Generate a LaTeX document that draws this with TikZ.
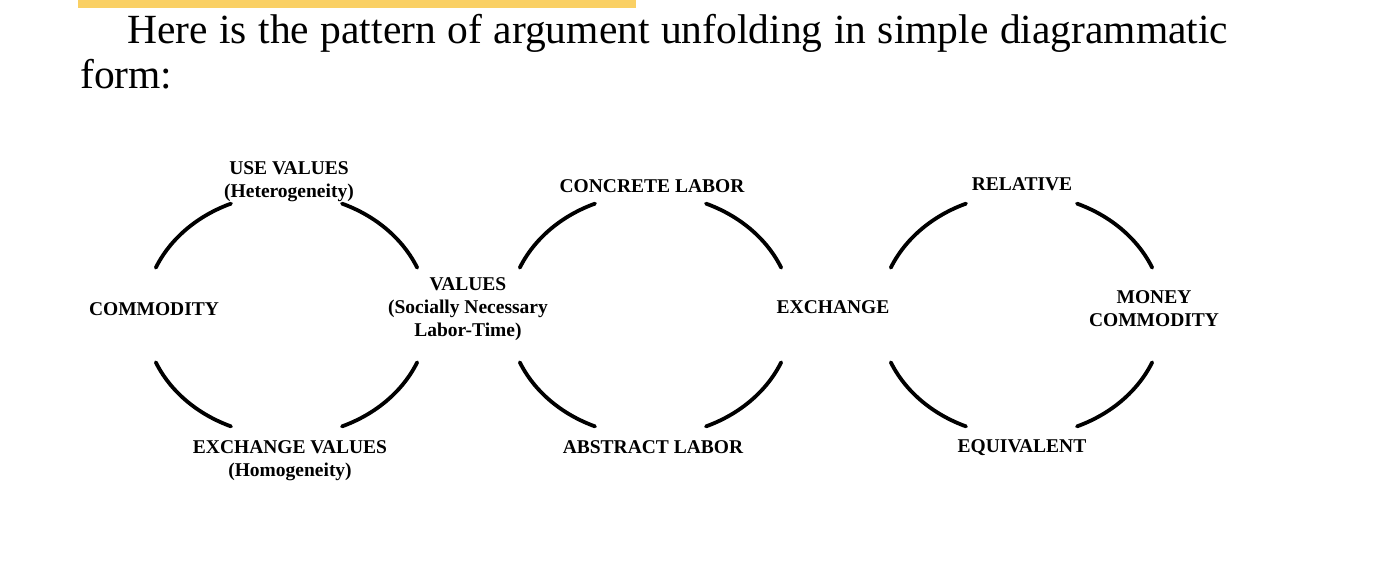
\documentclass[tikz,border=0pt]{standalone}
\usepackage{fontspec}
\setmainfont{Liberation Serif}
\definecolor{hlyellow}{RGB}{250,208,100}
\tikzset{
  looparc/.style={line width=3.8pt, line cap=round, black},
  lbl/.style={font=\fontsize{19.5}{23}\selectfont\bfseries, align=center, inner sep=0pt, anchor=base},
  bodytext/.style={font=\fontsize{41.5}{44}\selectfont, inner sep=0pt, anchor=base west}
}
\begin{document}
\begin{tikzpicture}[x=1pt, y=-1pt]
  \useasboundingbox (0,0) rectangle (1382,562);
  % highlight bar from the previous line
  \fill[hlyellow] (78,0) rectangle (636,8);
  % body text
  \node[bodytext] (line1) at (127,43) {\makebox[1101pt][s]{Here is the pattern of argument unfolding in simple diagrammatic}};
  \node[bodytext] (line2) at (80,88) {form:};
  % circle centres
  \coordinate (c1) at (286.5,315);
  \coordinate (c2) at (650.5,315);
  \coordinate (c3) at (1021.5,315);
  % arcs
  \foreach \c in {c1,c2,c3}{
    \foreach \s in {23,113,203,293}{
      \draw[looparc] (\c) ++(\s:142 and 121) arc[start angle=\s, end angle=\s+44, x radius=142, y radius=121];
    }
  }
  % labels, circle 1 (multi-line nodes are placed at the baseline of their last line)
  \node[lbl] (usevalues) at (289,197) {USE VALUES\\(Heterogeneity)};
  \node[lbl] (commodity) at (154,315) {COMMODITY};
  \node[lbl] (values) at (468,336) {VALUES\\(Socially Necessary\\Labor-Time)};
  \node[lbl] (exchvalues) at (290,476) {EXCHANGE VALUES\\(Homogeneity)};
  % circle 2
  \node[lbl] (concrete) at (652,192) {CONCRETE LABOR};
  \node[lbl] (exchange) at (833,313) {EXCHANGE};
  \node[lbl] (abstract) at (653,453) {ABSTRACT LABOR};
  % circle 3
  \node[lbl] (relative) at (1022,190) {RELATIVE};
  \node[lbl] (money) at (1154,326) {MONEY\\COMMODITY};
  \node[lbl] (equivalent) at (1022,452) {EQUIVALENT};
\end{tikzpicture}
\end{document}
